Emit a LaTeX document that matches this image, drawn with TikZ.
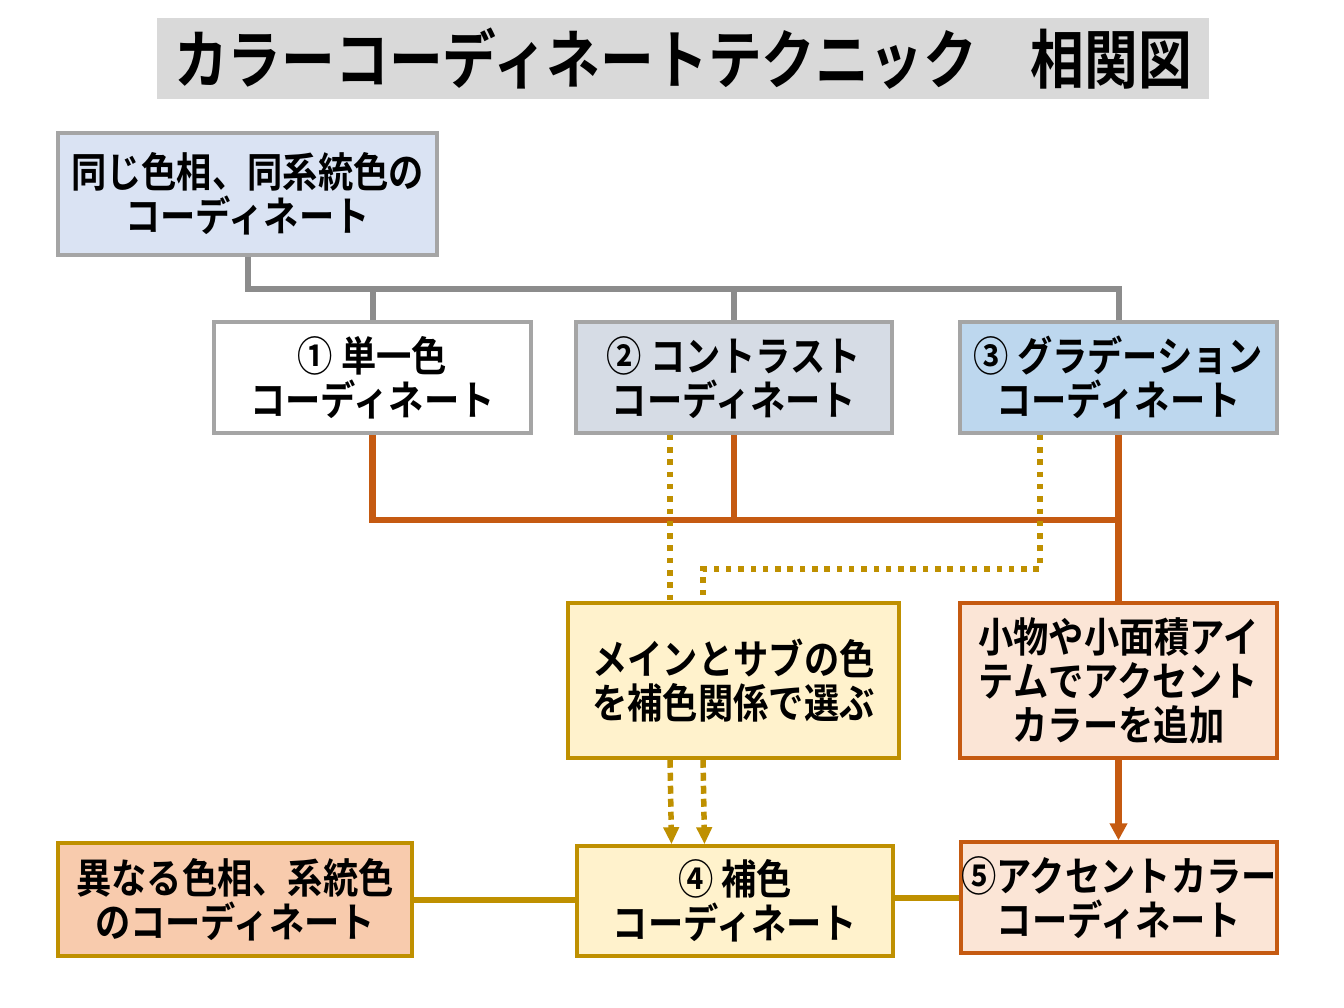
\documentclass[tikz,border=0pt]{standalone}
\usepackage{fontspec}
\usetikzlibrary{arrows.meta}
\newfontfamily\jp{Noto Sans CJK JP Bold}[FakeStretch=0.86]
\newfontfamily\jpt{Noto Sans CJK JP Bold}[FakeStretch=0.84]
\definecolor{titlebg}{HTML}{D9D9D9}
\definecolor{gborder}{HTML}{A5A5A5}
\definecolor{gline}{HTML}{8C8C8C}
\definecolor{orng}{HTML}{C55A11}
\definecolor{gold}{HTML}{BF9000}
\definecolor{fblue}{HTML}{DAE3F3}
\definecolor{fgrayblue}{HTML}{D6DCE5}
\definecolor{fsky}{HTML}{BDD7EE}
\definecolor{fyellow}{HTML}{FFF2CC}
\definecolor{fpeach}{HTML}{FBE5D6}
\definecolor{fsalmon}{HTML}{F8CBAD}
\tikzset{
  box/.style={draw, line width=3.5pt, align=center, inner sep=0pt,
    font=\jp\fontsize{41}{44}\selectfont, text=black},
  graybox/.style={box, draw=gborder},
  orangebox/.style={box, draw=orng, fill=fpeach},
  goldbox/.style={box, draw=gold},
  grayconn/.style={draw=gline, line width=6pt},
  orangeconn/.style={draw=orng, line width=6.5pt},
  goldconn/.style={draw=gold, line width=6pt},
  dotconn/.style={draw=gold, line width=6pt, dash pattern=on 5.5pt off 6.8pt},
  dasharrow/.style={draw=gold, line width=5.5pt, dash pattern=on 8pt off 5pt,
    -{Triangle[width=15pt,length=17pt,fill=gold]}},
  orangearrow/.style={draw=orng, line width=6.5pt,
    -{Triangle[width=17pt,length=17pt,fill=orng]}}
}
\begin{document}
\begin{tikzpicture}[x=1pt,y=-1pt]
\useasboundingbox (0,0) rectangle (1344,1008);
% title
\node (title) [fill=titlebg, minimum width=1052pt, minimum height=81pt, inner sep=0pt,
  font=\jpt\fontsize{64}{64}\selectfont] at (683,58.5)
  {カラーコーディネートテクニック　相関図};
% boxes
\node (b0) [graybox, fill=fblue, minimum width=379pt, minimum height=122pt] at (247.5,194)
  {同じ色相、同系統色の\\コーディネート};
\node (b1) [graybox, fill=white, minimum width=317pt, minimum height=111pt] at (372.5,377.5)
  {① 単一色\\コーディネート};
\node (b2) [graybox, fill=fgrayblue, minimum width=316pt, minimum height=111pt] at (734,377.5)
  {② コントラスト\\コーディネート};
\node (b3) [graybox, fill=fsky, minimum width=317pt, minimum height=111pt] at (1118.5,377.5)
  {③ グラデーション\\コーディネート};
\node (bm) [goldbox, fill=fyellow, minimum width=331pt, minimum height=155pt] at (733.5,680.5)
  {メインとサブの色\\を補色関係で選ぶ};
\node (bk) [orangebox, minimum width=317pt, minimum height=155pt] at (1118.5,680.5)
  {小物や小面積アイ\\テムでアクセント\\カラーを追加};
\node (b4) [goldbox, fill=fyellow, minimum width=316pt, minimum height=110pt] at (735,901)
  {④ 補色\\コーディネート};
\node (b5) [orangebox, minimum width=316pt, minimum height=111pt] at (1119,897.5)
  {⑤アクセントカラー\\コーディネート};
\node (bd) [goldbox, fill=fsalmon, minimum width=354pt, minimum height=113pt] at (235,899.5)
  {異なる色相、系統色\\のコーディネート};
% helper coordinates
\coordinate (gy) at (0,289);
\coordinate (oy) at (0,520);
\coordinate (dy) at (0,569);
\coordinate (mA) at ([xshift=-63.5pt]bm.north);
\coordinate (mB) at ([xshift=-30.5pt]bm.north);
\coordinate (s3) at ([xshift=-78.5pt]b3.south);
\coordinate (nA) at ([xshift=-63.5pt]b4.north);
\coordinate (nB) at ([xshift=-30.5pt]b4.north);
% gray tree
\draw[grayconn] (b0.south) |- (b3.north |- gy) -- (b3.north);
\draw[grayconn] (b1.north |- gy) -- (b1.north);
\draw[grayconn] (b2.north |- gy) -- (b2.north);
% orange tree
\draw[orangeconn] (b1.south) |- (b3.south |- oy);
\draw[orangeconn] (b2.south) -- (b2.south |- oy);
\draw[orangeconn] (b3.south) -- (bk.north);
% dotted gold
\draw[dotconn] (mA |- b2.south) -- (mA);
\draw[dotconn] (s3) |- (mB |- dy) -- (mB);
% dashed arrows
\draw[dasharrow] (mA |- bm.south) -- (nA);
\draw[dasharrow] (mB |- bm.south) -- (nB);
% orange arrow
\draw[orangearrow] (bk.south) -- (bk.south |- b5.north);
% gold solid
\draw[goldconn] (bd.east) -- (bd.east -| b4.west);
\draw[goldconn] (b4.east |- b5.west) -- (b5.west);
\end{tikzpicture}
\end{document}
